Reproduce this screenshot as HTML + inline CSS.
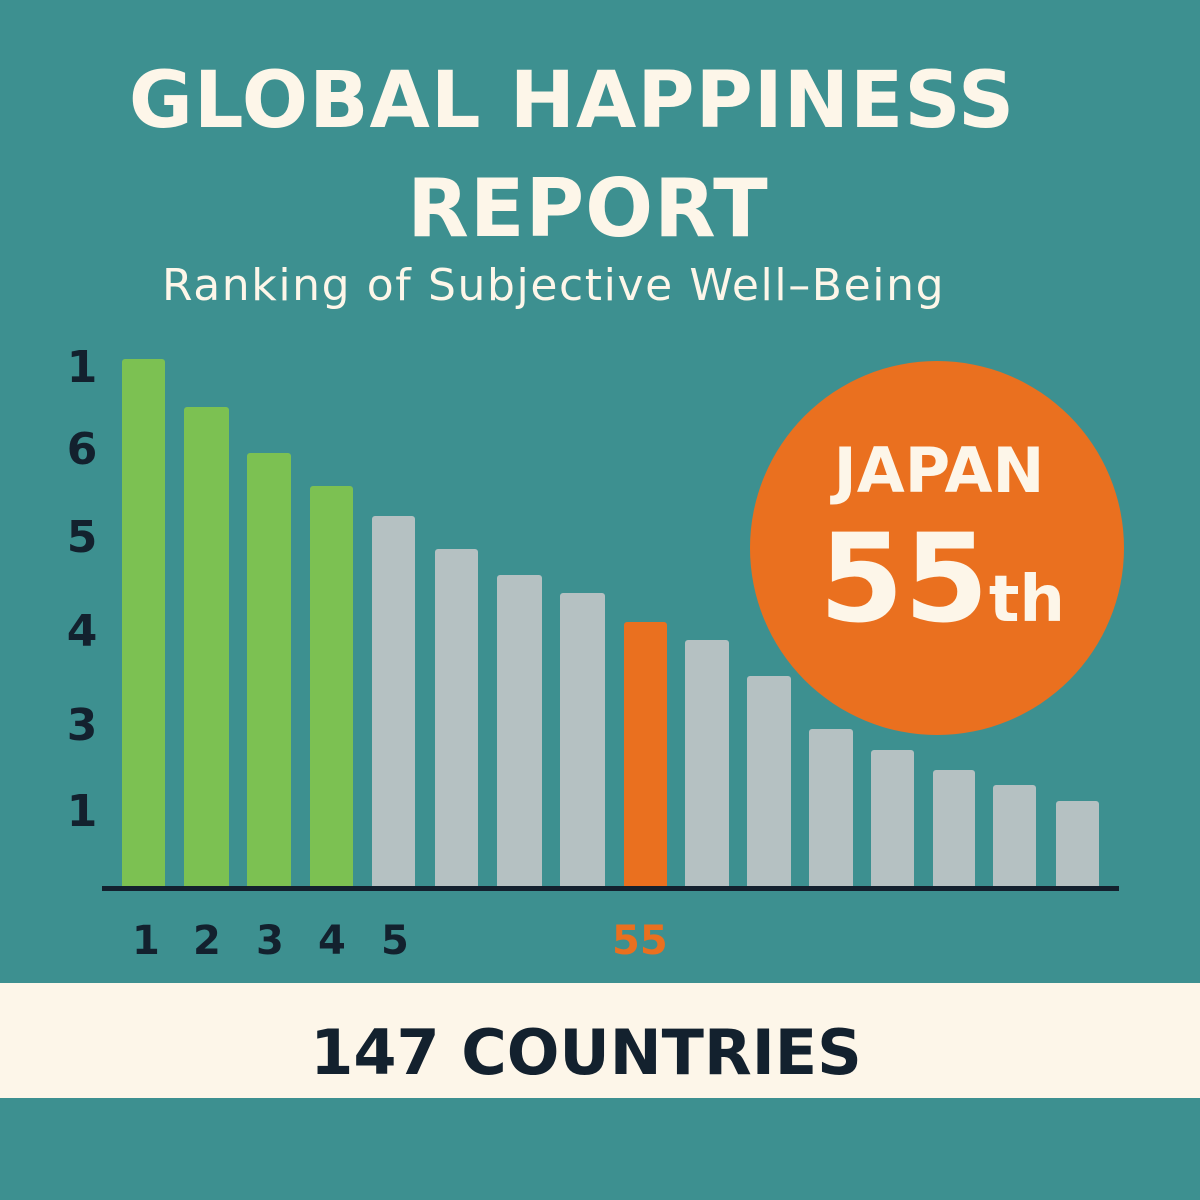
<!DOCTYPE html>
<html><head><style>
body{margin:0;width:1200px;height:1200px;background:#3d9090;font-family:"DejaVu Sans","Liberation Sans",sans-serif;position:relative;overflow:hidden}
.t{position:absolute;white-space:nowrap}
.b{position:absolute;border-radius:3px 3px 0 0;bottom:313px}
.g{background:#7cc152}.s{background:#b5c1c2}.o{background:#ea701f}
.y{position:absolute;left:60px;width:44px;text-align:center;font-weight:bold;font-size:44px;color:#13212e}
.x{position:absolute;top:918px;font-weight:bold;font-size:40px;color:#13212e}
</style></head><body>
<div class="t" style="left:0;width:1144px;text-align:center;top:56px;font-size:78px;font-weight:bold;color:#fdf6e9;letter-spacing:1px">GLOBAL HAPPINESS</div>
<div class="t" style="left:0;width:1176px;text-align:center;top:162px;font-size:80px;font-weight:bold;color:#fdf6e9;letter-spacing:1px">REPORT</div>
<div class="t" style="left:162px;top:260px;font-size:44px;color:#fdf6e9;letter-spacing:1.6px">Ranking of Subjective Well–Being</div>
<div class="y" style="top:342px">1</div>
<div class="y" style="top:424px">6</div>
<div class="y" style="top:512px">5</div>
<div class="y" style="top:606px">4</div>
<div class="y" style="top:700px">3</div>
<div class="y" style="top:786px">1</div>
<div class="b g" style="left:122px;width:43px;top:359px"></div>
<div class="b g" style="left:184px;width:45px;top:407px"></div>
<div class="b g" style="left:247px;width:44px;top:453px"></div>
<div class="b g" style="left:310px;width:43px;top:486px"></div>
<div class="b s" style="left:372px;width:43px;top:516px"></div>
<div class="b s" style="left:435px;width:43px;top:549px"></div>
<div class="b s" style="left:497px;width:45px;top:575px"></div>
<div class="b s" style="left:560px;width:45px;top:593px"></div>
<div class="b o" style="left:624px;width:43px;top:622px"></div>
<div class="b s" style="left:685px;width:44px;top:640px"></div>
<div class="b s" style="left:747px;width:44px;top:676px"></div>
<div class="b s" style="left:809px;width:44px;top:729px"></div>
<div class="b s" style="left:871px;width:43px;top:750px"></div>
<div class="b s" style="left:933px;width:42px;top:770px"></div>
<div class="b s" style="left:993px;width:43px;top:785px"></div>
<div class="b s" style="left:1056px;width:43px;top:801px"></div>
<div style="position:absolute;left:102px;top:886px;width:1017px;height:5px;background:#13212e"></div>
<div class="x" style="left:132px">1</div>
<div class="x" style="left:193px">2</div>
<div class="x" style="left:256px">3</div>
<div class="x" style="left:318px">4</div>
<div class="x" style="left:381px">5</div>
<div class="x" style="left:612px;color:#ea701f">55</div>
<div style="position:absolute;left:750px;top:361px;width:374px;height:374px;border-radius:50%;background:#ea701f"></div>
<div class="t" style="left:750px;width:378px;text-align:center;top:434px;font-size:62px;font-weight:bold;color:#fdf6e9">JAPAN</div>
<div class="t" style="left:750px;width:384px;text-align:center;top:508px;font-size:122px;font-weight:bold;color:#fdf6e9">55<span style="font-size:64px">th</span></div>
<div style="position:absolute;left:0;top:983px;width:1200px;height:115px;background:#fdf6e9"></div>
<div class="t" style="left:0;width:1172px;text-align:center;top:1016px;font-size:62px;font-weight:bold;color:#13212e">147 COUNTRIES</div>
</body></html>
